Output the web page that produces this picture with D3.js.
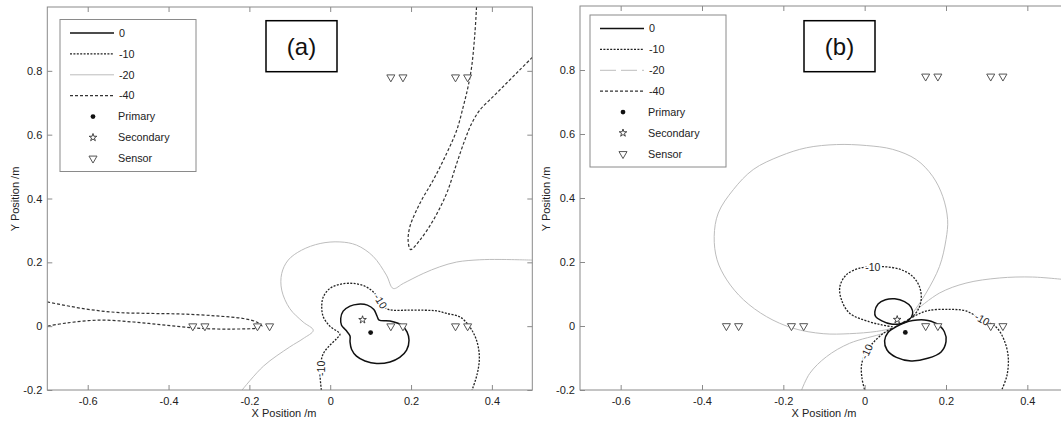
<!DOCTYPE html>
<html>
<head>
<meta charset="utf-8">
<script src="https://cdn.jsdelivr.net/npm/d3@7"></script>
<style>
body{margin:0;background:#fff;}
svg{display:block;font-family:'Liberation Sans',Arial,sans-serif;}
</style>
</head>
<body>
<script>
const width=1061;
const height=423;

const xTicks=[-0.6,-0.4,-0.2,0,0.2,0.4];
const yTicks=[-0.2,0,0.2,0.4,0.6,0.8];
const sensorsLowX=[-0.34,-0.31,-0.18,-0.15,0.15,0.18,0.31,0.34];
const sensorsHighX=[0.15,0.18,0.31,0.34];
const sensorHighY=0.78;
const primary=[0.1,-0.02];
const secondary=[0.08,0.02];
const legendNames=['0','-10','-20','-40','Primary','Secondary','Sensor'];

// contours
const aZero=[[0.026,0.024],[0.032,0.047],[0.049,0.063],[0.069,0.069],[0.092,0.066],[0.108,0.052],[0.116,0.031],[0.121,0.019],[0.148,0.016],[0.177,0.003],[0.190,-0.018],[0.195,-0.044],[0.189,-0.075],[0.172,-0.098],[0.148,-0.112],[0.115,-0.117],[0.086,-0.109],[0.065,-0.094],[0.053,-0.073],[0.049,-0.049],[0.049,-0.031],[0.039,-0.013],[0.028,0.003]];
const aMinus10=[[-0.022,-0.2],[-0.025,-0.159],[-0.025,-0.128],[-0.017,-0.086],[-0.001,-0.060],[0.016,-0.039],[0.024,-0.025],[-0.001,0.0],[-0.017,0.029],[-0.021,0.061],[-0.017,0.092],[-0.001,0.118],[0.024,0.131],[0.057,0.134],[0.086,0.125],[0.106,0.108],[0.123,0.082],[0.139,0.055],[0.156,0.050],[0.189,0.050],[0.230,0.050],[0.263,0.048],[0.288,0.040],[0.321,0.029],[0.345,-0.002],[0.362,-0.044],[0.369,-0.096],[0.364,-0.148],[0.351,-0.2]];
const aMinus20=[[-0.218,-0.2],[-0.165,-0.125],[-0.100,-0.065],[-0.067,-0.039],[-0.042,-0.013],[-0.067,0.013],[-0.100,0.055],[-0.120,0.113],[-0.120,0.165],[-0.104,0.207],[-0.071,0.238],[-0.025,0.259],[0.024,0.264],[0.065,0.254],[0.106,0.219],[0.139,0.160],[0.156,0.118],[0.181,0.134],[0.230,0.165],[0.271,0.186],[0.313,0.201],[0.370,0.208],[0.420,0.209],[0.5,0.207]];
const aMinus40Upper=[[0.362,1.0],[0.358,0.918],[0.350,0.813],[0.341,0.750],[0.329,0.687],[0.313,0.614],[0.288,0.541],[0.255,0.458],[0.222,0.385],[0.197,0.311],[0.193,0.264],[0.199,0.240],[0.222,0.270],[0.255,0.332],[0.288,0.416],[0.313,0.510],[0.333,0.583],[0.350,0.635],[0.370,0.677],[0.403,0.719],[0.436,0.761],[0.469,0.803],[0.5,0.842]];
const aMinus40Left=[[-0.7,0.076],[-0.611,0.055],[-0.528,0.043],[-0.446,0.040],[-0.364,0.038],[-0.281,0.032],[-0.215,0.024],[-0.182,0.013],[-0.169,0.0],[-0.182,-0.006],[-0.240,-0.009],[-0.322,-0.007],[-0.405,0.003],[-0.487,0.013],[-0.570,0.019],[-0.652,0.010],[-0.7,0.0]];
const aLabels=[[-0.022,-0.132,-90],[0.124,0.078,58]];

// contours
const bZeroUpper=[[0.025,0.045],[0.033,0.069],[0.051,0.082],[0.074,0.085],[0.098,0.076],[0.114,0.059],[0.118,0.038],[0.109,0.019],[0.090,0.008],[0.065,0.006],[0.041,0.017],[0.027,0.029]];
const bZeroLower=[[0.118,0.017],[0.147,0.019],[0.176,0.008],[0.196,-0.018],[0.200,-0.049],[0.188,-0.081],[0.155,-0.101],[0.114,-0.109],[0.078,-0.098],[0.055,-0.075],[0.049,-0.046],[0.057,-0.021],[0.078,-0.002],[0.098,0.010]];
const bMinus10Upper=[[0.069,-0.003],[0.040,0.004],[0.012,0.013],[-0.037,0.040],[-0.057,0.082],[-0.061,0.123],[-0.045,0.160],[-0.012,0.181],[0.020,0.185],[0.053,0.185],[0.090,0.176],[0.118,0.155],[0.135,0.122],[0.139,0.082],[0.131,0.050],[0.118,0.029]];
const bMinus10Right=[[0.118,0.028],[0.135,0.039],[0.159,0.049],[0.208,0.052],[0.249,0.047],[0.290,0.019],[0.323,-0.003],[0.343,-0.044],[0.353,-0.097],[0.350,-0.154],[0.337,-0.2]];
const bMinus10Lower=[[0.066,-0.008],[0.047,-0.022],[0.027,-0.044],[0.007,-0.075],[-0.007,-0.116],[-0.007,-0.160],[0.0,-0.2]];
const bMinus20Loop=[[0.118,0.040],[0.151,0.103],[0.184,0.186],[0.200,0.270],[0.204,0.332],[0.192,0.405],[0.167,0.468],[0.127,0.520],[0.069,0.552],[0.004,0.564],[-0.069,0.567],[-0.143,0.557],[-0.208,0.531],[-0.274,0.489],[-0.323,0.426],[-0.360,0.353],[-0.370,0.280],[-0.363,0.207],[-0.339,0.144],[-0.298,0.082],[-0.241,0.029],[-0.176,-0.007],[-0.102,-0.024],[-0.037,-0.024],[0.029,-0.017],[0.069,-0.007]];
const bMinus20Right=[[0.127,0.050],[0.184,0.103],[0.249,0.134],[0.331,0.150],[0.413,0.153],[0.5,0.144]];
const bMinus20Lower=[[0.061,-0.013],[0.045,-0.023],[-0.037,-0.054],[-0.094,-0.096],[-0.135,-0.148],[-0.155,-0.2]];
const bMinus40Link=[[0.062,-0.012],[0.090,0.008],[0.120,0.030]];
const bLabels=[[0.020,0.183,0],[0.289,0.021,30],[0.005,-0.080,-65]];

const styles={
  '0':{stroke:'#111',width:1.5,dash:null},
  '-10':{stroke:'#222',width:1.3,dash:'2,1.4'},
  '-20':{stroke:'#bdbdbd',width:1,dash:null},
  '-40':{stroke:'#333',width:1.2,dash:'3,2'}
};

const svg=d3.select('body').append('svg').attr('width',width).attr('height',height);

function drawPanel(p){
  const x=d3.scaleLinear().domain([-0.7,0.5]).range([0,p.w]);
  const y=d3.scaleLinear().domain([-0.2,1.0]).range([p.h,0]);
  const g=svg.append('g').attr('transform',`translate(${p.left},${p.top})`);

  g.append('clipPath').attr('id','clip'+p.id).append('rect').attr('width',p.w).attr('height',p.h);
  const plot=g.append('g').attr('clip-path',`url(#clip${p.id})`);

  const open=d3.line().x(d=>x(d[0])).y(d=>y(d[1])).curve(d3.curveCatmullRom.alpha(0.5));
  const closed=d3.line().x(d=>x(d[0])).y(d=>y(d[1])).curve(d3.curveCatmullRomClosed.alpha(0.5));

  p.lines.forEach(l=>{
    const s=styles[l.level];
    plot.append('path').attr('d',(l.closed?closed:open)(l.pts))
      .attr('fill','none').attr('stroke',s.stroke).attr('stroke-width',s.width)
      .attr('stroke-dasharray',s.dash);
  });

  plot.selectAll('text.clab').data(p.labels).enter().append('text')
    .attr('class','clab')
    .attr('transform',d=>`translate(${x(d[0])},${y(d[1])}) rotate(${d[2]})`)
    .attr('text-anchor','middle').attr('dy','0.35em')
    .attr('font-size',10.5).attr('fill','#222')
    .attr('stroke','#fff').attr('stroke-width',3).attr('paint-order','stroke')
    .text('-10');

  // sensors
  const tri=d3.symbol().type(d3.symbolTriangle).size(28);
  const sensors=sensorsLowX.map(v=>[v,0]).concat(sensorsHighX.map(v=>[v,sensorHighY]));
  plot.selectAll('path.sensor').data(sensors).enter().append('path')
    .attr('class','sensor').attr('d',tri)
    .attr('transform',d=>`translate(${x(d[0])},${y(d[1])}) rotate(180)`)
    .attr('fill','#fff').attr('stroke','#555').attr('stroke-width',1);
  plot.append('path').attr('d',d3.symbol().type(d3.symbolStar).size(18))
    .attr('transform',`translate(${x(secondary[0])},${y(secondary[1])})`)
    .attr('fill','#fff').attr('stroke','#333').attr('stroke-width',0.9);
  plot.append('path').attr('d',d3.symbol().type(d3.symbolCircle).size(18))
    .attr('transform',`translate(${x(primary[0])},${y(primary[1])})`)
    .attr('fill','#111');

  // box and inward ticks
  g.append('rect').attr('width',p.w).attr('height',p.h).attr('fill','none').attr('stroke','#8a8a8a');
  const fmt=d=>String(d);
  const axes=[
    g.append('g').attr('transform',`translate(0,${p.h})`).call(d3.axisBottom(x).tickValues(xTicks).tickFormat(fmt).tickSize(-5).tickPadding(7)),
    g.append('g').call(d3.axisLeft(y).tickValues(yTicks).tickFormat(fmt).tickSize(-5).tickPadding(5)),
    g.append('g').call(d3.axisTop(x).tickValues(xTicks).tickFormat('').tickSize(-5)),
    g.append('g').attr('transform',`translate(${p.w},0)`).call(d3.axisRight(y).tickValues(yTicks).tickFormat('').tickSize(-5))
  ];
  axes.forEach(a=>{
    a.select('.domain').remove();
    a.selectAll('line').attr('stroke','#8a8a8a');
    a.selectAll('text').attr('font-size',11).attr('fill','#222').attr('font-family','Liberation Sans, Arial, sans-serif');
  });

  // axis titles
  svg.append('text').attr('x',p.xLabelX).attr('y',417).attr('text-anchor','middle')
    .attr('font-size',11).attr('fill','#222').text('X Position /m');
  svg.append('text').attr('transform',`translate(${p.yLabelX},199) rotate(-90)`)
    .attr('text-anchor','middle').attr('dy','0.35em')
    .attr('font-size',11).attr('fill','#222').text('Y Position /m');

  // legend
  const lg=svg.append('g').attr('transform',`translate(${p.legend[0]},${p.legend[1]})`);
  lg.append('rect').attr('width',136).attr('height',152).attr('fill','#fff').attr('stroke','#8a8a8a');
  legendNames.forEach((name,i)=>{
    const yy=13.5+i*20.9;
    if(i<4){
      const s=styles[name];
      lg.append('line').attr('x1',10).attr('x2',54).attr('y1',yy).attr('y2',yy)
        .attr('stroke',s.stroke).attr('stroke-width',s.width)
        .attr('stroke-dasharray',name==='-20'?p.legend20:s.dash);
    } else if(name==='Primary'){
      lg.append('path').attr('d',d3.symbol().type(d3.symbolCircle).size(18)).attr('transform',`translate(33,${yy})`).attr('fill','#111');
    } else if(name==='Secondary'){
      lg.append('path').attr('d',d3.symbol().type(d3.symbolStar).size(18)).attr('transform',`translate(33,${yy})`).attr('fill','#fff').attr('stroke','#333').attr('stroke-width',0.9);
    } else {
      lg.append('path').attr('d',tri).attr('transform',`translate(33,${yy}) rotate(180)`).attr('fill','#fff').attr('stroke','#555');
    }
    lg.append('text').attr('x',i<4?59:58).attr('y',yy).attr('dy','0.35em')
      .attr('font-size',10.8).attr('fill','#222').text(name);
  });

  // panel tag
  svg.append('rect').attr('x',p.tag[0]).attr('y',20.7).attr('width',71).attr('height',51)
    .attr('fill','#fff').attr('stroke','#000').attr('stroke-width',1.5);
  svg.append('text').attr('x',p.tag[0]+35.5).attr('y',46.2).attr('dy','0.35em')
    .attr('text-anchor','middle').attr('font-size',24).attr('fill','#111').text(p.tagText);
}

drawPanel({
  id:'a',left:47.3,top:7,w:485,h:383,
  xLabelX:284,yLabelX:15,legend:[60,19.5],legend20:null,tag:[266],tagText:'(a)',
  labels:aLabels,
  lines:[
    {level:'-20',pts:aMinus20},
    {level:'-40',pts:aMinus40Upper},
    {level:'-40',pts:aMinus40Left},
    {level:'-10',pts:aMinus10},
    {level:'0',pts:aZero,closed:true}
  ]
});

drawPanel({
  id:'b',left:580,top:6,w:488,h:384,
  xLabelX:824,yLabelX:546,legend:[590,15],legend20:'16,5',tag:[804],tagText:'(b)',
  labels:bLabels,
  lines:[
    {level:'-20',pts:bMinus20Loop},
    {level:'-20',pts:bMinus20Right},
    {level:'-20',pts:bMinus20Lower},
    {level:'-40',pts:bMinus40Link},
    {level:'-10',pts:bMinus10Upper},
    {level:'-10',pts:bMinus10Right},
    {level:'-10',pts:bMinus10Lower},
    {level:'0',pts:bZeroUpper,closed:true},
    {level:'0',pts:bZeroLower,closed:true}
  ]
});
</script>
</body>
</html>
